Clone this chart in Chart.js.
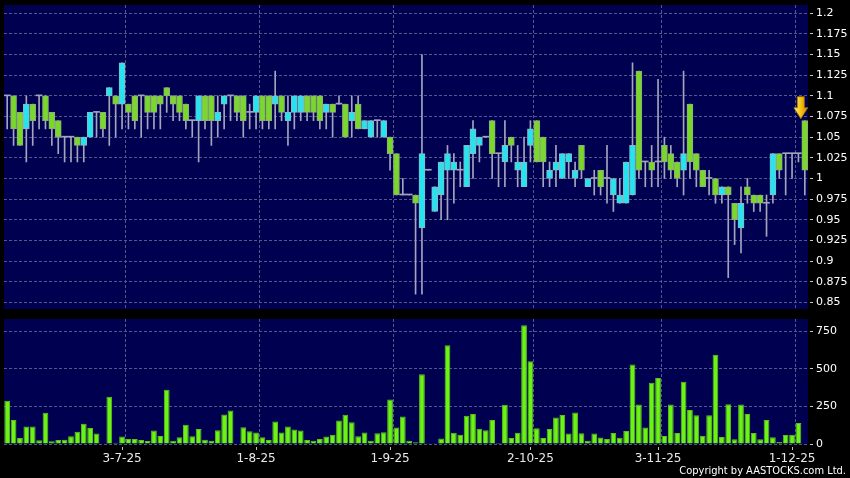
<!DOCTYPE html>
<html>
<head>
<meta charset="utf-8">
<script src="https://cdn.jsdelivr.net/npm/chart.js@4.4.1/dist/chart.umd.min.js"></script>
<style>
  html, body { margin: 0; padding: 0; background: #000; }
  #wrap { position: relative; width: 850px; height: 478px; overflow: hidden; background: #000; }
  #priceBox { position: absolute; left: 0; top: 0; width: 850px; height: 310px; }
  #volBox { position: absolute; left: 0; top: 310px; width: 850px; height: 168px; }
  #copy { position: absolute; right: 4px; top: 465px; color: #fff; font: 11px "DejaVu Sans Condensed", "DejaVu Sans", sans-serif; line-height: 12px; white-space: nowrap; }
</style>
</head>
<body>
<div id="wrap">
  <div id="priceBox"><canvas id="priceChart"></canvas></div>
  <div id="volBox"><canvas id="volChart"></canvas></div>
  <div id="copy">Copyright by AASTOCKS.com Ltd.</div>
</div>
<script>
// Daily OHLC + volume, oldest first
const opens = [
  1.10,1.10,1.08,1.06,1.09,1.10,1.10,1.08,1.07,1.05,
  1.05,1.05,1.04,1.05,1.08,1.08,1.10,1.10,1.09,1.09,
  1.10,1.10,1.10,1.10,1.10,1.11,1.10,1.10,1.09,1.07,
  1.07,1.10,1.10,1.07,1.09,1.10,1.10,1.10,1.08,1.08,
  1.10,1.10,1.09,1.10,1.07,1.08,1.08,1.10,1.10,1.10,
  1.08,1.09,1.09,1.09,1.07,1.09,1.06,1.05,1.07,1.05,
  1.05,1.03,0.98,0.98,0.98,0.94,1.01,0.96,0.98,1.01,
  1.01,1.01,0.99,1.03,1.04,1.05,1.07,1.03,1.02,1.05,
  1.01,0.99,1.04,1.07,1.05,1.00,1.01,1.00,1.02,1.00,
  1.04,0.99,1.00,1.01,1.00,0.98,0.97,0.97,0.98,1.13,
  1.02,1.02,1.02,1.04,1.03,1.02,1.01,1.09,1.03,1.01,
  1.00,1.00,0.98,0.99,0.97,0.94,0.99,0.98,0.98,0.97,
  0.98,1.03,1.03,1.03,1.03,1.07
];
const highs = [
  1.10,1.10,1.08,1.10,1.09,1.10,1.10,1.08,1.07,1.05,
  1.05,1.05,1.05,1.08,1.08,1.08,1.11,1.10,1.14,1.09,
  1.10,1.10,1.10,1.10,1.10,1.11,1.10,1.10,1.09,1.07,
  1.10,1.10,1.10,1.10,1.10,1.10,1.10,1.10,1.09,1.10,
  1.10,1.10,1.13,1.10,1.10,1.10,1.10,1.10,1.10,1.10,
  1.09,1.09,1.10,1.09,1.10,1.10,1.07,1.07,1.07,1.07,
  1.05,1.03,1.00,0.98,0.98,1.15,1.01,0.99,1.02,1.04,
  1.03,1.02,1.04,1.07,1.05,1.05,1.07,1.03,1.07,1.05,
  1.04,1.05,1.07,1.07,1.05,1.02,1.04,1.03,1.03,1.02,
  1.04,1.00,1.01,1.01,1.04,1.00,1.00,1.02,1.14,1.13,
  1.02,1.04,1.12,1.05,1.04,1.02,1.13,1.09,1.03,1.01,
  1.01,1.00,0.99,0.99,0.97,0.99,1.00,0.98,0.98,0.98,
  1.03,1.03,1.03,1.03,1.03,1.07
];
const lows = [
  1.06,1.04,1.04,1.02,1.04,1.06,1.06,1.04,1.03,1.02,
  1.02,1.02,1.02,1.05,1.05,1.05,1.04,1.05,1.06,1.06,
  1.06,1.05,1.06,1.06,1.06,1.08,1.07,1.07,1.06,1.05,
  1.02,1.06,1.04,1.05,1.06,1.07,1.07,1.05,1.06,1.06,
  1.06,1.06,1.06,1.07,1.04,1.06,1.07,1.07,1.07,1.06,
  1.06,1.05,1.09,1.05,1.05,1.06,1.06,1.05,1.05,1.05,
  1.01,0.98,0.98,0.98,0.86,0.86,1.01,0.96,0.95,0.95,
  0.97,0.99,0.99,1.00,1.02,1.05,1.00,0.99,0.99,1.02,
  0.99,0.99,1.02,1.02,0.99,0.99,0.99,1.00,1.00,0.99,
  1.00,0.99,0.98,0.98,0.97,0.96,0.97,0.97,0.98,1.00,
  0.99,0.99,0.99,1.00,1.00,0.99,0.98,1.00,0.99,0.99,
  0.98,0.97,0.97,0.88,0.92,0.91,0.97,0.96,0.96,0.93,
  0.97,1.00,0.98,1.00,1.02,0.98
];
const closes = [
  1.10,1.06,1.04,1.09,1.07,1.10,1.07,1.06,1.05,1.05,
  1.05,1.04,1.05,1.08,1.08,1.06,1.11,1.09,1.14,1.08,
  1.07,1.10,1.08,1.08,1.09,1.10,1.09,1.08,1.07,1.07,
  1.10,1.07,1.07,1.08,1.10,1.10,1.08,1.07,1.08,1.10,
  1.07,1.07,1.10,1.08,1.08,1.10,1.10,1.08,1.08,1.07,
  1.09,1.08,1.09,1.05,1.08,1.06,1.07,1.07,1.07,1.07,
  1.03,0.98,0.98,0.98,0.97,1.03,1.01,0.99,1.02,1.03,
  1.02,1.01,1.04,1.06,1.05,1.05,1.03,1.03,1.04,1.04,
  1.02,1.02,1.06,1.02,1.02,1.01,1.02,1.03,1.03,1.01,
  1.01,1.00,1.00,0.99,1.00,1.00,0.98,1.02,1.04,1.01,
  1.02,1.01,1.02,1.02,1.01,1.00,1.03,1.02,1.01,0.99,
  1.00,0.98,0.99,0.98,0.95,0.97,0.98,0.97,0.97,0.97,
  1.03,1.01,1.03,1.03,1.03,1.01
];
// volume in thousands of shares
const volumes = [
  287,160,40,116,116,25,207,18,27,29,
  51,82,134,107,69,4,314,9,49,33,
  33,27,20,89,53,361,22,45,127,51,
  100,29,22,91,196,223,4,111,85,76,
  45,27,149,76,116,96,89,27,22,33,
  49,62,156,194,145,51,76,22,71,78,
  296,109,183,22,11,463,2,2,36,655,
  74,62,187,200,102,91,160,7,261,40,
  74,789,550,105,40,100,176,192,69,209,
  71,22,69,43,34,73,42,87,528,262,
  109,406,439,53,262,73,414,226,191,55,
  191,592,47,264,31,262,200,73,31,160,
  44,13,60,62,139,4
];

// axis ticks
const priceTicks = [0.85, 0.875, 0.9, 0.925, 0.95, 0.975, 1, 1.025, 1.05, 1.075, 1.1, 1.125, 1.15, 1.175, 1.2];
const volumeTicks = [0, 250, 500, 750];
const dateTickIdx = [18, 39, 60, 82, 102, 123];
const dateTickText = ['3-7-25', '1-8-25', '1-9-25', '2-10-25', '3-11-25', '1-12-25'];

// colours
const PLOT_BG = '#000050';
const GRID = '#56568f';
const UP = '#26e4ef';
const UP_EDGE = '#8ab8c2';
const DOWN = '#7ad82a';
const DOWN_EDGE = '#8eaa7e';
const WICK = '#a4a4bc';
const VOL = '#6cf214';
const VOL_EDGE = '#5cc21a';
const FONT = 'DejaVu Sans';

const labels = closes.map((_, i) => i);
const lastIdx = closes.length - 1;

function candleColor(i) {
    if (closes[i] > opens[i]) return UP;
    if (closes[i] < opens[i]) return DOWN;
    return WICK;
}

function candleEdge(i) {
    if (closes[i] > opens[i]) return UP_EDGE;
    if (closes[i] < opens[i]) return DOWN_EDGE;
    return WICK;
}

// navy plot area
const plotBg = {
    id: 'plotBg',
    beforeDraw(chart) {
        const { ctx, chartArea: a } = chart;
        ctx.save();
        ctx.fillStyle = PLOT_BG;
        ctx.fillRect(a.left, a.top, a.right - a.left, a.bottom - a.top);
        ctx.restore();
    }
};

// dashed month separators, just right of each date tick
const monthLines = {
    id: 'monthLines',
    beforeDatasetsDraw(chart) {
        const { ctx, chartArea: a, scales: { x } } = chart;
        const step = x.getPixelForValue(1) - x.getPixelForValue(0);
        ctx.save();
        ctx.strokeStyle = GRID;
        ctx.lineWidth = 1;
        ctx.setLineDash([3, 2]);
        dateTickIdx.forEach(idx => {
            const px = Math.round(x.getPixelForValue(idx) + step * 0.4) + 0.5;
            ctx.beginPath();
            ctx.moveTo(px, a.top);
            ctx.lineTo(px, a.bottom);
            ctx.stroke();
        });
        ctx.restore();
    }
};

// yellow marker above the latest candle
const lastArrow = {
    id: 'lastArrow',
    afterDatasetsDraw(chart) {
        const { ctx, scales: { x, y } } = chart;
        const cx = x.getPixelForValue(lastIdx) - 4;
        const tip = y.getPixelForValue(highs[lastIdx]) - 2;
        const grad = ctx.createLinearGradient(cx - 7, 0, cx + 7, 0);
        grad.addColorStop(0, '#fff2a0');
        grad.addColorStop(0.45, '#f7c814');
        grad.addColorStop(1, '#d08a00');
        ctx.save();
        ctx.beginPath();
        ctx.moveTo(cx - 3.5, tip - 22);
        ctx.lineTo(cx + 3.5, tip - 22);
        ctx.lineTo(cx + 3.5, tip - 11);
        ctx.lineTo(cx + 7, tip - 11);
        ctx.lineTo(cx, tip);
        ctx.lineTo(cx - 7, tip - 11);
        ctx.lineTo(cx - 3.5, tip - 11);
        ctx.closePath();
        ctx.fillStyle = grad;
        ctx.fill();
        ctx.strokeStyle = '#a87000';
        ctx.lineWidth = 0.8;
        ctx.stroke();
        ctx.restore();
    }
};

function rightAxis(min, max, ticks) {
    return {
        position: 'right',
        min: min,
        max: max,
        bounds: 'data',
        afterBuildTicks: s => { s.ticks = ticks.map(v => ({ value: v })); },
        afterFit: s => {
            s.width = 42;
            // labels may overhang the plot, don't let them shrink it
            s.paddingTop = 0;
            s.paddingBottom = 0;
        },
        grid: { color: GRID, drawTicks: true, tickLength: 5, tickColor: '#c8c8c8', tickBorderDash: [0, 2, 3] },
        border: { display: false, dash: [3, 2] },
        ticks: {
            color: '#ffffff',
            padding: 3,
            font: { family: FONT, size: 11 },
            callback: v => String(+Number(v).toFixed(3))
        }
    };
}

Chart.defaults.animation = false;

// Price chart
new Chart(document.getElementById('priceChart'), {
    type: 'bar',
    data: {
        labels: labels,
        datasets: [
            {
                label: 'range',
                data: lows.map((l, i) => [l, highs[i]]),
                backgroundColor: WICK,
                barThickness: 1,
                grouped: false,
                order: 2
            },
            {
                label: 'body',
                data: opens.map((o, i) => [o, closes[i]]),
                backgroundColor: c => candleColor(c.dataIndex),
                borderColor: c => candleEdge(c.dataIndex),
                borderWidth: c => (closes[c.dataIndex] === opens[c.dataIndex] ? 0 : 1),
                borderSkipped: false,
                barThickness: 6,
                minBarLength: 1,
                grouped: false,
                order: 1
            }
        ]
    },
    options: {
        responsive: true,
        maintainAspectRatio: false,
        layout: { padding: { left: 4, top: 5, bottom: 1, right: 0 } },
        plugins: { legend: { display: false }, tooltip: { enabled: false } },
        scales: {
            x: { display: false, offset: true },
            y: rightAxis(0.842, 1.21, priceTicks)
        }
    },
    plugins: [plotBg, monthLines, lastArrow]
});

// Volume chart
new Chart(document.getElementById('volChart'), {
    type: 'bar',
    data: {
        labels: labels,
        datasets: [{
            label: 'volume',
            data: volumes,
            backgroundColor: VOL,
            borderColor: VOL_EDGE,
            borderWidth: 1,
            barPercentage: 0.9,
            categoryPercentage: 1
        }]
    },
    options: {
        responsive: true,
        maintainAspectRatio: false,
        layout: { padding: { left: 4, top: 9, bottom: 4, right: 0 } },
        plugins: { legend: { display: false }, tooltip: { enabled: false } },
        scales: {
            x: {
                offset: true,
                afterBuildTicks: s => { s.ticks = dateTickIdx.map(v => ({ value: v })); },
                afterFit: s => { s.height = 30; },
                grid: { offset: false, drawOnChartArea: false, drawTicks: true, tickLength: 6, tickColor: '#bdbdbd', tickBorderDash: [0, 3, 3] },
                border: { display: false },
                ticks: {
                    autoSkip: false,
                    maxRotation: 0,
                    padding: 2,
                    color: '#e8e8e8',
                    font: { family: FONT, size: 12 },
                    callback: v => dateTickText[dateTickIdx.indexOf(v)]
                }
            },
            y: rightAxis(0, 830, volumeTicks)
        }
    },
    plugins: [plotBg, monthLines]
});
</script>
</body>
</html>
